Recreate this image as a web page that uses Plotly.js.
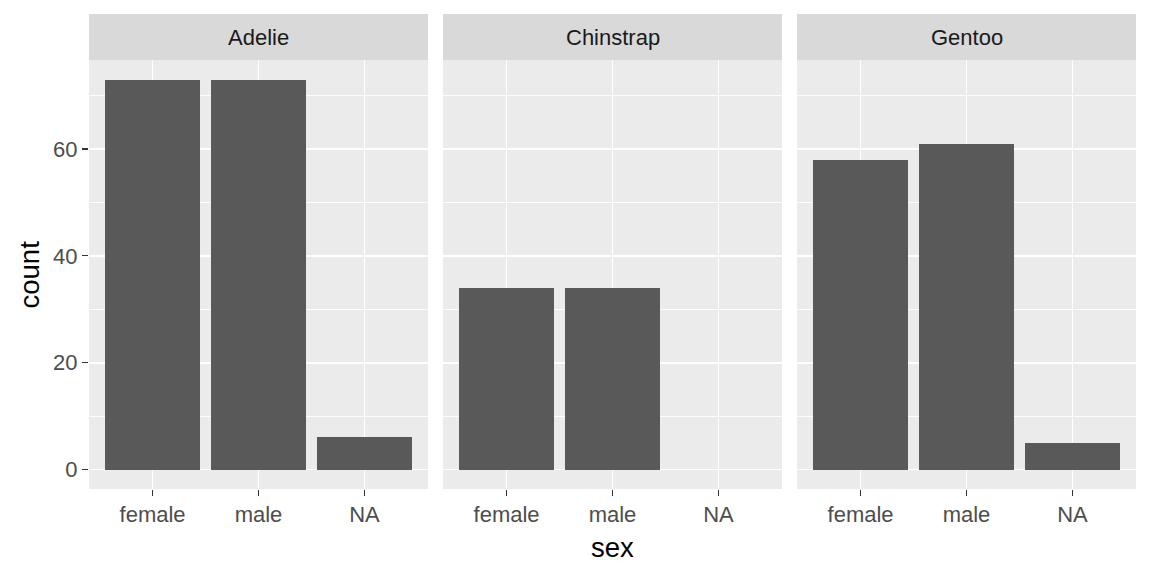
<!DOCTYPE html>
<html>
<head>
<meta charset="utf-8">
<script src="https://cdn.plot.ly/plotly-3.0.1.min.js"></script>
<style>
  html, body { margin: 0; padding: 0; background: #fff; }
  #chart { width: 1152px; height: 576px; }
</style>
</head>
<body>
<div id="chart"></div>
<script>
// ─── data ───────────────────────────────────────────
var species = ['Adelie', 'Chinstrap', 'Gentoo'];
var sexes = ['female', 'male', 'NA'];
var adelieCounts = [73, 73, 6];
var chinstrapCounts = [34, 34, null];
var gentooCounts = [58, 61, 5];
var yTicks = [0, 20, 40, 60];
var yMinor = [10, 30, 50, 70];

var FONT = '"Liberation Sans", Arial, sans-serif';
var W = 1152, H = 576;
var panelX = [[89, 428], [443, 782], [797, 1136]];
var plotTop = 60, plotBottom = 489, stripTop = 14;

function px(x) { return x / W; }
function py(y) { return 1 - y / H; }

var counts = [adelieCounts, chinstrapCounts, gentooCounts];
var traces = [];
var layout = {
  width: W, height: H,
  margin: { l: 0, r: 0, t: 0, b: 0 },
  paper_bgcolor: '#FFFFFF',
  plot_bgcolor: '#EBEBEB',
  showlegend: false,
  bargap: 0,
  font: { family: FONT, size: 22, color: '#4D4D4D' },
  shapes: [],
  annotations: []
};

species.forEach(function (sp, i) {
  var suffix = i === 0 ? '' : String(i + 1);
  traces.push({
    type: 'bar',
    x: sexes,
    y: counts[i],
    width: 0.9,
    xaxis: 'x' + suffix,
    yaxis: 'y' + suffix,
    marker: { color: '#595959', line: { width: 0 } },
    hoverinfo: 'x+y'
  });

  layout['xaxis' + suffix] = {
    domain: [px(panelX[i][0]), px(panelX[i][1])],
    anchor: 'y' + suffix,
    type: 'category',
    categoryorder: 'array',
    categoryarray: sexes,
    range: [-0.6, 2.6],
    showgrid: true,
    gridcolor: '#FFFFFF',
    gridwidth: 1.8,
    zeroline: false,
    showline: false,
    ticks: 'outside',
    ticklen: 6,
    tickwidth: 1.3,
    tickcolor: '#333333',
    tickfont: { family: FONT, size: 22, color: '#4D4D4D' },
    fixedrange: true
  };

  layout['yaxis' + suffix] = {
    domain: [py(plotBottom), py(plotTop)],
    anchor: 'x' + suffix,
    range: [-3.65, 76.65],
    tickmode: 'array',
    tickvals: yTicks,
    showgrid: true,
    gridcolor: '#FFFFFF',
    gridwidth: 1.8,
    minor: { tickmode: 'array', tickvals: yMinor, showgrid: true, gridcolor: '#FFFFFF', gridwidth: 0.9 },
    zeroline: false,
    showline: false,
    ticks: i === 0 ? 'outside' : '',
    ticklen: 6,
    tickwidth: 1.3,
    tickcolor: '#333333',
    showticklabels: i === 0,
    tickfont: { family: FONT, size: 22, color: '#4D4D4D' },
    fixedrange: true
  };

  // strip
  layout.shapes.push({
    type: 'rect', xref: 'paper', yref: 'paper',
    x0: px(panelX[i][0]), x1: px(panelX[i][1]),
    y0: py(plotTop), y1: py(stripTop),
    fillcolor: '#D9D9D9', line: { width: 0 }, layer: 'below'
  });
  layout.annotations.push({
    xref: 'paper', yref: 'paper',
    x: px((panelX[i][0] + panelX[i][1]) / 2), y: py((plotTop + stripTop) / 2),
    text: sp, showarrow: false,
    xanchor: 'center', yanchor: 'middle',
    font: { family: FONT, size: 22, color: '#1A1A1A' }
  });
});

// axis titles
layout.annotations.push({
  xref: 'paper', yref: 'paper',
  x: px((panelX[0][0] + panelX[2][1]) / 2), y: py(547),
  text: 'sex', showarrow: false, xanchor: 'center', yanchor: 'middle',
  font: { family: FONT, size: 27.5, color: '#000000' }
});
layout.annotations.push({
  xref: 'paper', yref: 'paper',
  x: px(29), y: py((plotTop + plotBottom) / 2),
  text: 'count', showarrow: false, textangle: -90,
  xanchor: 'center', yanchor: 'middle',
  font: { family: FONT, size: 27.5, color: '#000000' }
});

Plotly.newPlot('chart', traces, layout, { staticPlot: true, displayModeBar: false });
</script>
</body>
</html>
